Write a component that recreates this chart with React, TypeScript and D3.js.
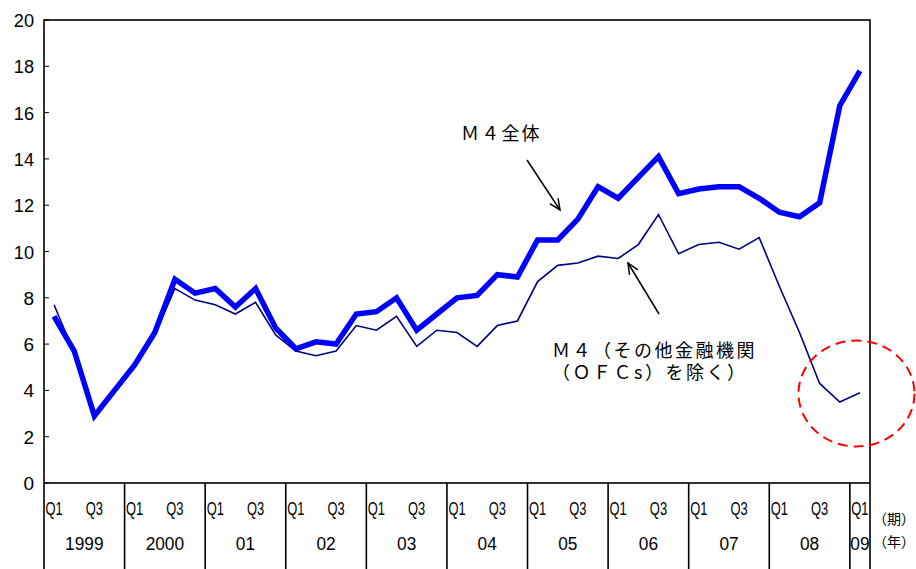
import React from "react";
import * as d3 from "d3";

// Year groups along the category axis and the number of quarters shown for each
const yearLabels = ["1999", "2000", "01", "02", "03", "04", "05", "06", "07", "08", "09"];
const quartersPerYear = [4, 4, 4, 4, 4, 4, 4, 4, 4, 4, 1];
const quarterTickLabels = ["Q1", "", "Q3", ""];
const yTicks = [0, 2, 4, 6, 8, 10, 12, 14, 16, 18, 20];

// M4 growth (% y/y), whole aggregate
const m4Total = [
  7.2, 5.7, 2.9, 4.0,
  5.1, 6.5, 8.8, 8.2,
  8.4, 7.6, 8.4, 6.7,
  5.8, 6.1, 6.0, 7.3,
  7.4, 8.0, 6.6, 7.3,
  8.0, 8.1, 9.0, 8.9,
  10.5, 10.5, 11.4, 12.8,
  12.3, 13.2, 14.1, 12.5,
  12.7, 12.8, 12.8, 12.3,
  11.7, 11.5, 12.1, 16.3,
  17.8,
];

// M4 growth excluding other financial corporations (OFCs)
const m4ExOfc = [
  7.7, 5.6, 2.8, 3.9,
  5.0, 6.4, 8.4, 7.9,
  7.7, 7.3, 7.8, 6.4,
  5.7, 5.5, 5.7, 6.8,
  6.6, 7.2, 5.9, 6.6,
  6.5, 5.9, 6.8, 7.0,
  8.7, 9.4, 9.5, 9.8,
  9.7, 10.3, 11.6, 9.9,
  10.3, 10.4, 10.1, 10.6,
  8.5, 6.5, 4.3, 3.5,
  3.9,
];

const W = 916;
const H = 569;
const left = 44;
const right = 870;
const top = 20;
const bottom = 483;
const tableBottom = 569;

const latin = "'Liberation Sans', Arial, sans-serif";
const cjk = "'Noto Sans CJK JP', 'Noto Sans', sans-serif";

// Narrow, half-width style numerals
const halfWidth = (s: string) => s.length * 9.6;

type Arrow = { x1: number; y1: number; x2: number; y2: number };

function ArrowMark({ x1, y1, x2, y2 }: Arrow) {
  const ang = Math.atan2(y2 - y1, x2 - x1);
  const len = 12;
  const spread = 0.42;
  const a1 = ang + Math.PI - spread;
  const a2 = ang + Math.PI + spread;
  const p1 = [x2 + len * Math.cos(a1), y2 + len * Math.sin(a1)];
  const p2 = [x2 + len * Math.cos(a2), y2 + len * Math.sin(a2)];
  return (
    <g stroke="#000" strokeWidth={1.5} fill="none">
      <line x1={x1} y1={y1} x2={x2} y2={y2} />
      <polyline points={`${p1[0]},${p1[1]} ${x2},${y2} ${p2[0]},${p2[1]}`} />
    </g>
  );
}

export default function App() {
  const categories: { year: number; q: number }[] = [];
  quartersPerYear.forEach((n, yi) => {
    for (let q = 0; q < n; q++) categories.push({ year: yi, q });
  });
  const ids = categories.map((_, i) => i);

  const x = d3.scaleBand<number>().domain(ids).range([left, right]);
  const bw = x.bandwidth();
  const cx = (i: number) => (x(i) as number) + bw / 2;
  const y = d3.scaleLinear().domain([0, 20]).range([bottom, top]);

  const line = d3
    .line<number>()
    .x((_, i) => cx(i))
    .y((d) => y(d));

  // first category index for each year
  const yearStart: number[] = [];
  let acc = 0;
  quartersPerYear.forEach((n) => {
    yearStart.push(acc);
    acc += n;
  });

  return (
    <svg
      width={W}
      height={H}
      viewBox={`0 0 ${W} ${H}`}
      style={{ position: "absolute", left: 0, top: 0, background: "#fff" }}
    >
      <rect x={0} y={0} width={W} height={H} fill="#fff" />

      {/* value axis ticks and labels */}
      {yTicks.map((t) => (
        <g key={t}>
          <line x1={left} x2={left + 5} y1={y(t)} y2={y(t)} stroke="#000" strokeWidth={1} />
          <text
            x={34}
            y={y(t) + 7}
            textAnchor="end"
            fontFamily={latin}
            fontSize={18}
            textLength={halfWidth(String(t)) + 1}
            lengthAdjust="spacingAndGlyphs"
            fill="#000"
          >
            {t}
          </text>
        </g>
      ))}

      {/* plot frame */}
      <rect
        x={left}
        y={top}
        width={right - left}
        height={bottom - top}
        fill="none"
        stroke="#000"
        strokeWidth={1.6}
      />

      {/* category table: year dividers */}
      {yearStart.map((s, i) => (
        <line
          key={i}
          x1={x(s) as number}
          x2={x(s) as number}
          y1={bottom}
          y2={tableBottom}
          stroke="#000"
          strokeWidth={1.6}
        />
      ))}
      <line x1={right} x2={right} y1={bottom} y2={tableBottom} stroke="#000" strokeWidth={1.6} />

      {/* quarter labels */}
      {categories.map((c, i) =>
        quarterTickLabels[c.q] ? (
          <text
            key={`q${i}`}
            x={cx(i)}
            y={515}
            textAnchor="middle"
            fontFamily={latin}
            fontSize={19}
            textLength={halfWidth(quarterTickLabels[c.q]) - 2}
            lengthAdjust="spacingAndGlyphs"
            fill="#000"
          >
            {quarterTickLabels[c.q]}
          </text>
        ) : null
      )}

      {/* year labels */}
      {yearLabels.map((lab, yi) => {
        const s = yearStart[yi];
        const e = s + quartersPerYear[yi] - 1;
        const mid = ((x(s) as number) + (x(e) as number) + bw) / 2;
        return (
          <text
            key={lab}
            x={mid}
            y={550}
            textAnchor="middle"
            fontFamily={latin}
            fontSize={18}
            textLength={halfWidth(lab)}
            lengthAdjust="spacingAndGlyphs"
            fill="#000"
          >
            {lab}
          </text>
        );
      })}

      <text x={873} y={524} fontFamily={cjk} fontSize={14} fill="#000">
        （期）
      </text>
      <text x={873} y={547} fontFamily={cjk} fontSize={14} fill="#000">
        （年）
      </text>

      {/* series */}
      <path
        d={line(m4ExOfc) ?? ""}
        fill="none"
        stroke="#000080"
        strokeWidth={1.6}
        strokeLinejoin="miter"
      />
      <path
        d={line(m4Total) ?? ""}
        fill="none"
        stroke="#0000ff"
        strokeWidth={5.5}
        strokeLinejoin="miter"
        strokeMiterlimit={3}
      />

      {/* annotations */}
      <text x={461} y={140} fontFamily={cjk} fontSize={18} letterSpacing={2.2} fill="#000">
        Ｍ４全体
      </text>
      <ArrowMark x1={527} y1={160} x2={560} y2={210} />

      <text x={552} y={357} fontFamily={cjk} fontSize={18} letterSpacing={2.5} fill="#000">
        Ｍ４（その他金融機関
      </text>
      <text x={552} y={379} fontFamily={cjk} fontSize={18} letterSpacing={2.5} fill="#000">
        （ＯＦＣs）を除く）
      </text>
      <ArrowMark x1={659} y1={314} x2={628} y2={263} />

      {/* highlight of the latest readings */}
      <ellipse
        cx={856.5}
        cy={393.5}
        rx={58}
        ry={53}
        fill="none"
        stroke="#ff0000"
        strokeWidth={2}
        strokeDasharray="10 6"
      />
    </svg>
  );
}
